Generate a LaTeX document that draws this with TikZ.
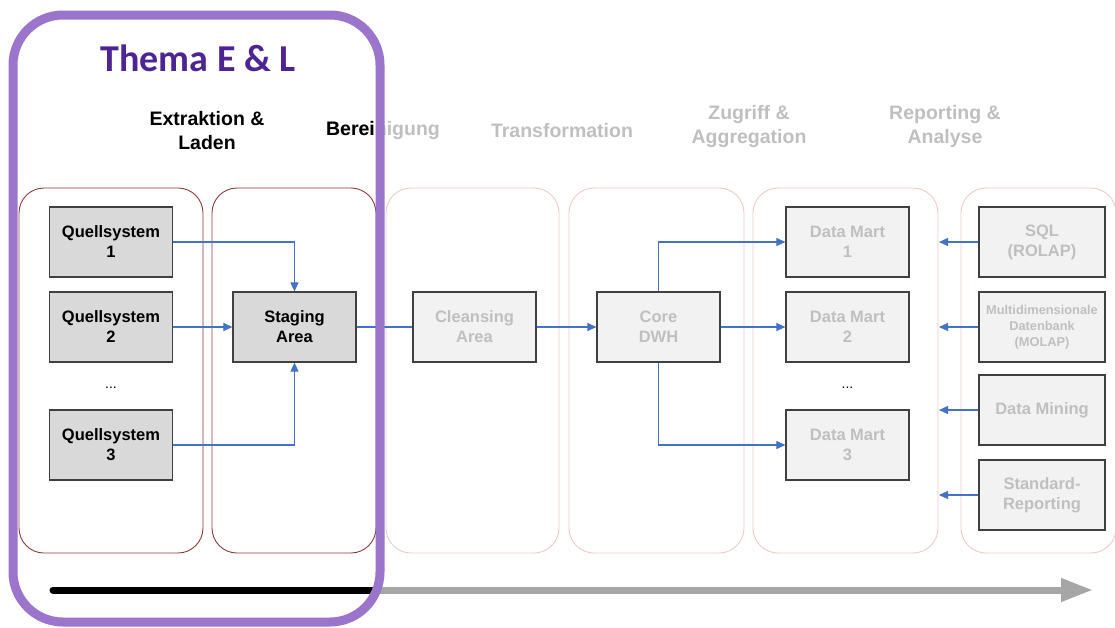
\documentclass[tikz,border=0pt]{standalone}
\usepackage{fontspec}
\setmainfont{Liberation Sans}
\newfontfamily\carlito{Carlito}
\usetikzlibrary{arrows.meta}
\definecolor{gtxt}{HTML}{BFBFBF}
\definecolor{lfill}{HTML}{F2F2F2}
\definecolor{dfill}{HTML}{D9D9D9}
\definecolor{bord}{HTML}{404040}
\definecolor{conblue}{HTML}{4472C4}
\definecolor{darkred}{HTML}{8B3A3A}
\definecolor{pinkline}{HTML}{F2C9C9}
\definecolor{purp}{HTML}{9B74CC}
\definecolor{titlepurp}{HTML}{4E2394}
\definecolor{bargray}{HTML}{A6A6A6}
\tikzset{
  cont/.style={rounded corners=25pt, line width=0.9pt},
  darkcont/.style={cont, draw=darkred},
  lightcont/.style={cont, draw=pinkline},
  box/.style={draw=bord, line width=1.2pt, minimum width=123pt, minimum height=70pt,
    align=center, font=\bfseries\fontsize{16.5}{20}\selectfont, inner sep=1pt},
  darkbox/.style={box, fill=dfill, text=black},
  lightbox/.style={box, fill=lfill, text=gtxt},
  rbox/.style={lightbox, minimum width=126pt},
  header/.style={align=center, font=\bfseries\fontsize{19.5}{24}\selectfont},
  conn/.style={draw=conblue, line width=1.1pt},
  arr/.style={conn, -{Triangle[length=9pt,width=8pt]}},
  dots/.style={font=\fontsize{14}{16}\selectfont},
}
\begin{document}
\begin{tikzpicture}[x=1pt, y=-1pt]
\useasboundingbox (0,0) rectangle (1115,627);
% containers
\draw[darkcont] (19,188) rectangle (203,553);
\draw[darkcont] (212,188) rectangle (376,553);
\draw[lightcont] (386,188) rectangle (559,553);
\draw[lightcont] (569,188) rectangle (744,553);
\draw[lightcont] (753,188) rectangle (938,553);
\draw[lightcont] (961,188) rectangle (1116,553);
% headers
\node[header, text=black] (h1) at (207,130.5) {Extraktion \&\\Laden};
\node[header, text=gtxt] (h2) at (383,130.5) {Bereinigung};
\begin{scope}
\clip (0,0) rectangle (377,627);
\node[header, text=black] (h2b) at (383,130.5) {Bereinigung};
\end{scope}
\node[header, text=gtxt] (h3) at (562,130.5) {Transformation};
\node[header, text=gtxt] (h4) at (749,126.5) {Zugriff \&\\Aggregation};
\node[header, text=gtxt] (h5) at (945,126.5) {Reporting \&\\Analyse};
% boxes
\node[darkbox] (q1) at (111,242) {Quellsystem\\1};
\node[darkbox] (q2) at (111,327) {Quellsystem\\2};
\node[dots] (qd) at (111,388) {...};
\node[darkbox] (q3) at (111,445) {Quellsystem\\3};
\node[darkbox] (stg) at (294.5,327) {Staging\\Area};
\node[lightbox] (cls) at (474.5,327) {Cleansing\\Area};
\node[lightbox] (core) at (658.5,327) {Core\\DWH};
\node[lightbox] (dm1) at (847.5,242) {Data Mart\\1};
\node[lightbox] (dm2) at (847.5,327) {Data Mart\\2};
\node[dots] (dmd) at (847.5,388) {...};
\node[lightbox] (dm3) at (847.5,445) {Data Mart\\3};
\node[rbox] (sql) at (1042,242) {SQL\\(ROLAP)};
\node[rbox, font=\bfseries\fontsize{12.8}{16}\selectfont] (molap) at (1042,327) {Multidimensionale\\Datenbank\\(MOLAP)};
\node[rbox] (mining) at (1042,410) {Data Mining};
\node[rbox] (std) at (1042,495) {Standard-\\Reporting};
% connectors
\draw[arr] (q1.east) -| (stg.north);
\draw[arr] (q2.east) -- (stg.west);
\draw[arr] (q3.east) -| (stg.south);
\draw[conn] (stg.east) -- (cls.west);
\draw[arr] (cls.east) -- (core.west);
\draw[arr] (core.north) |- (dm1.west);
\draw[arr] (core.east) -- (dm2.west);
\draw[arr] (core.south) |- (dm3.west);
\coordinate (e1) at (939,242);
\coordinate (e2) at (939,327);
\coordinate (e3) at (939,410);
\coordinate (e4) at (939,495);
\draw[arr] (sql.west) -- (e1);
\draw[arr] (molap.west) -- (e2);
\draw[arr] (mining.west) -- (e3);
\draw[arr] (std.west) -- (e4);
% bottom arrow
\coordinate (b0) at (53,590);
\coordinate (b1) at (372,590);
\coordinate (b2) at (1093,590);
\draw[bargray, line width=7pt, -{Triangle[length=32pt,width=22pt]}] (b1) -- (b2);
\draw[black, line width=7pt, line cap=round] (b0) -- (b1);
% theme frame
\draw[purp, line width=9pt, rounded corners=50pt] (13,15) rectangle (380,622);
\node[anchor=base, text=titlepurp, font=\carlito\bfseries\fontsize{38}{40}\selectfont] (title) at (198,71) {Thema E \& L};
\end{tikzpicture}
\end{document}
